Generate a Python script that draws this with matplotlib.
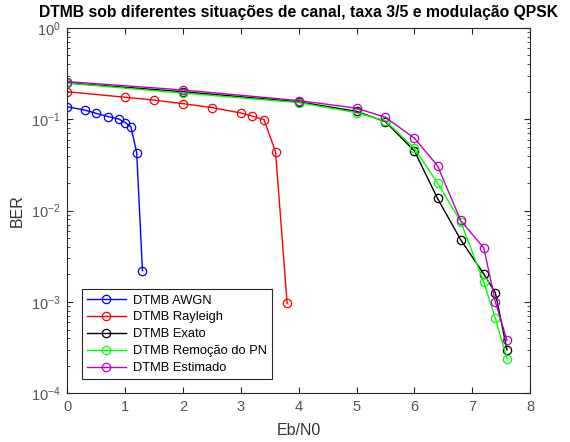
import numpy as np
import matplotlib
matplotlib.use('Agg')
import matplotlib.pyplot as plt
from matplotlib.ticker import LogLocator, NullFormatter

plt.rcParams['font.family'] = ['Liberation Sans', 'DejaVu Sans']
plt.rcParams['mathtext.fontset'] = 'custom'
plt.rcParams['mathtext.rm'] = 'Liberation Sans'
plt.rcParams['mathtext.it'] = 'Liberation Sans'

# Dados (Eb/N0 em dB, BER)
eb_awgn = [0, 0.3, 0.5, 0.7, 0.9, 1.0, 1.1, 1.2, 1.3]
ber_awgn = [0.137, 0.126, 0.116, 0.107, 0.100, 0.092, 0.083, 0.043, 0.0022]

eb_ray = [0, 1.0, 1.5, 2.0, 2.5, 3.0, 3.2, 3.4, 3.6, 3.8]
ber_ray = [0.200, 0.174, 0.162, 0.148, 0.134, 0.117, 0.108, 0.099, 0.044, 0.00097]

eb_fad = [0, 2, 4, 5, 5.5, 6, 6.4, 6.8, 7.2, 7.4, 7.6]
ber_exato = [0.250, 0.200, 0.155, 0.122, 0.094, 0.045, 0.0136, 0.0048, 0.00202, 0.00126, 0.00030]
ber_pn = [0.248, 0.193, 0.152, 0.118, 0.096, 0.048, 0.020, 0.0076, 0.00164, 0.00066, 0.00024]
ber_est = [0.258, 0.209, 0.160, 0.132, 0.105, 0.062, 0.031, 0.0078, 0.0039, 0.00100, 0.00038]

labels = ['DTMB AWGN', 'DTMB Rayleigh', 'DTMB Exato', 'DTMB Remoção do PN', 'DTMB Estimado']

fig = plt.figure(figsize=(5.7, 4.42), dpi=100)
ax = fig.add_axes([0.118, 0.110, 0.812, 0.827])

kw = dict(marker='o', markerfacecolor='none', markersize=6, linewidth=1.0, markeredgewidth=0.9)
ax.semilogy(eb_awgn, ber_awgn, color='b', label=labels[0], **kw)
ax.semilogy(eb_ray, ber_ray, color='r', label=labels[1], **kw)
ax.semilogy(eb_fad, ber_exato, color='k', label=labels[2], **kw)
ax.semilogy(eb_fad, ber_pn, color='#00ff00', label=labels[3], **kw)
ax.semilogy(eb_fad, ber_est, color='m', label=labels[4], **kw)

ax.set_xlim(0, 8)
ax.set_ylim(1e-4, 1)
ax.set_xticks(range(0, 9))
ax.yaxis.set_major_locator(LogLocator(base=10, numticks=10))
ax.yaxis.set_minor_locator(LogLocator(base=10, subs=np.arange(2, 10), numticks=10))
ax.yaxis.set_minor_formatter(NullFormatter())
ax.tick_params(which='both', direction='in', top=True, right=True, labelsize=10.5,
               colors='#262626', labelcolor='#555555')
ax.tick_params(which='major', length=4, pad=5)
ax.tick_params(which='minor', length=2)
for s in ax.spines.values():
    s.set_linewidth(0.8)
    s.set_color('#262626')

ax.set_xlabel('Eb/N0', fontsize=11.5, color='#333333', labelpad=6)
ax.set_ylabel('BER', fontsize=11.5, color='#333333', labelpad=4)
ax.set_title('DTMB sob diferentes situações de canal, taxa 3/5 e modulação QPSK',
             fontsize=11.3, fontweight='bold', pad=8)

leg = ax.legend(loc='lower left', bbox_to_anchor=(0.031, 0.038), borderaxespad=0,
                fontsize=9.3, fancybox=False, edgecolor='#262626', framealpha=1,
                handlelength=3.0, labelspacing=0.38, borderpad=0.4, handletextpad=0.6)
leg.get_frame().set_linewidth(0.8)

fig.savefig('out.png', dpi=100)
